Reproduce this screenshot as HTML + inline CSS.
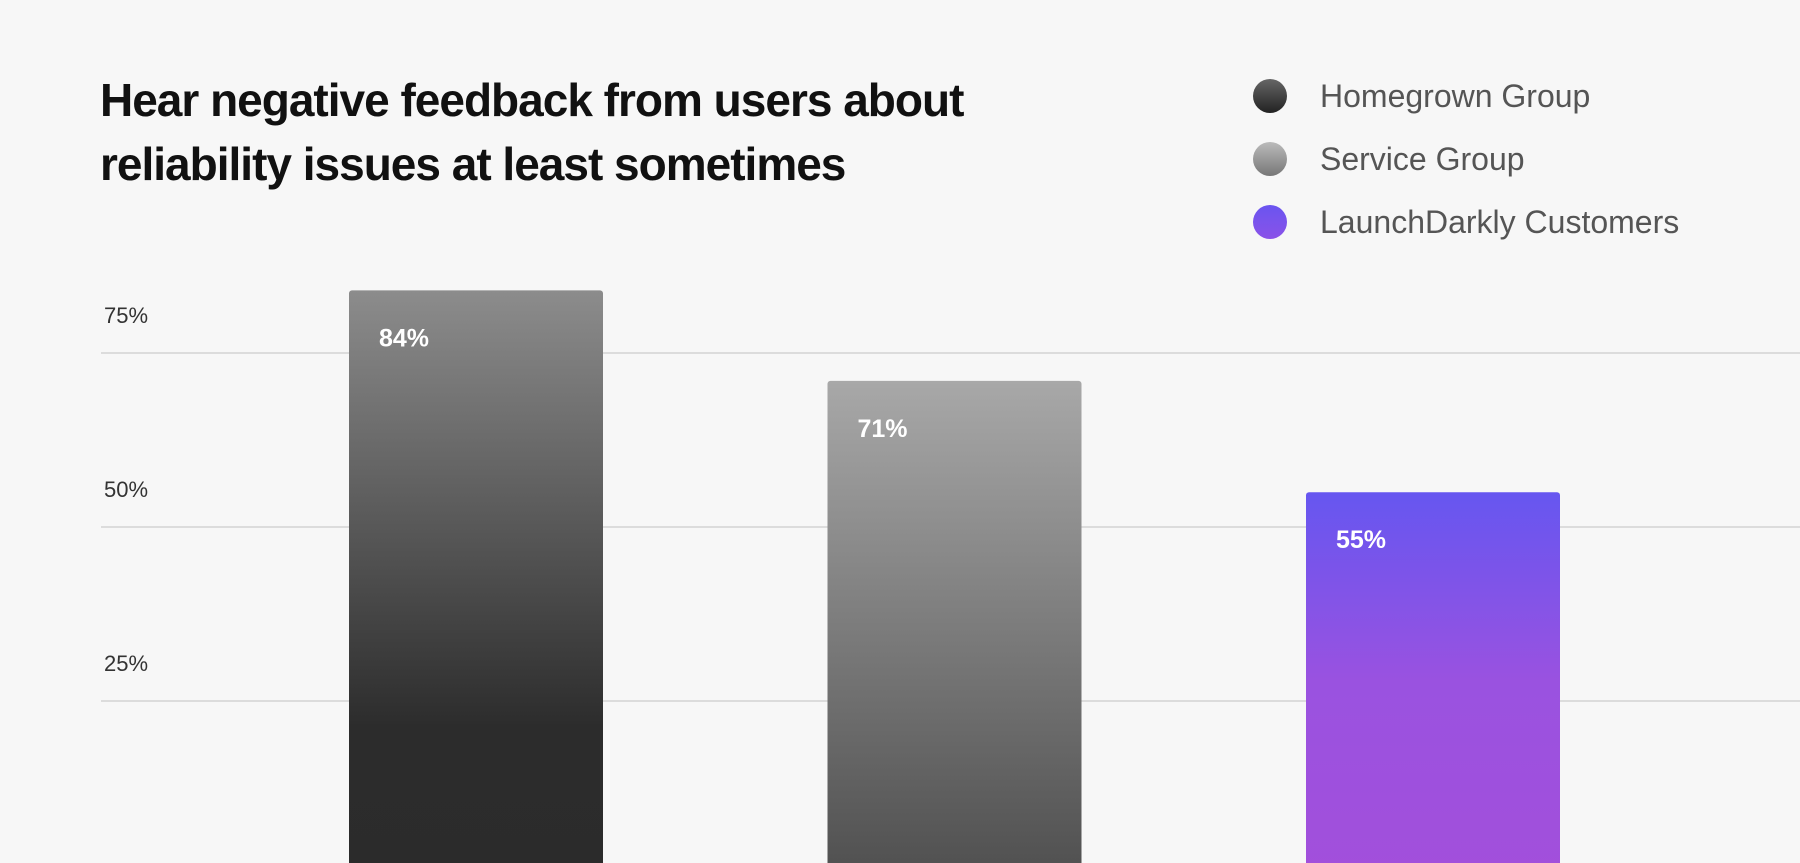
<!DOCTYPE html>
<html><head><meta charset="utf-8">
<style>
html,body{margin:0;padding:0;background:#f7f7f7;}
svg{display:block;font-family:"Liberation Sans",sans-serif;}
</style></head>
<body>
<svg id="chart" width="1800" height="863" viewBox="0 0 1800 863" xmlns="http://www.w3.org/2000/svg">
<defs>
<linearGradient id="g0" x1="0" y1="0" x2="0" y2="1"><stop offset="0" stop-color="#8c8c8c"/><stop offset="0.75" stop-color="#2c2c2c"/><stop offset="1" stop-color="#2b2b2b"/></linearGradient>
<linearGradient id="g1" x1="0" y1="0" x2="0" y2="1"><stop offset="0" stop-color="#a8a8a8"/><stop offset="1" stop-color="#505050"/></linearGradient>
<linearGradient id="g2" x1="0" y1="0" x2="0" y2="1"><stop offset="0" stop-color="#6656f0"/><stop offset="0.5" stop-color="#9a52e0"/><stop offset="1" stop-color="#a24fdb"/></linearGradient>
<linearGradient id="l0" x1="0" y1="0" x2="0" y2="1"><stop offset="0" stop-color="#666"/><stop offset="1" stop-color="#222"/></linearGradient>
<linearGradient id="l1" x1="0" y1="0" x2="0" y2="1"><stop offset="0" stop-color="#bbb"/><stop offset="1" stop-color="#777"/></linearGradient>
<linearGradient id="l2" x1="0" y1="0" x2="0" y2="1"><stop offset="0" stop-color="#6a55f0"/><stop offset="1" stop-color="#8a52e8"/></linearGradient>
</defs>
<rect width="1800" height="863" fill="#f7f7f7"/>
<g font-size="46" font-weight="bold" fill="#111">
<text x="100" y="116" letter-spacing="-1">Hear negative feedback from users about</text>
<text x="100" y="180" letter-spacing="-1">reliability issues at least sometimes</text>
</g>
<g id="legend" font-size="32" fill="#555"></g>
<g id="grid"></g>
<g id="bars"></g>
</svg>
<script>
const categories = ["Homegrown Group","Service Group","LaunchDarkly Customers"];
const values = [84,71,55];
const tickValues = [25,50,75];
const tickLabels = ["25%","50%","75%"];

const NS="http://www.w3.org/2000/svg";
const y0=875, pxPer=6.96;
function yScale(v){return y0-v*pxPer;}
function xScale(i){return 349+i*478.5;}
const barW=254;
function mk(tag,attrs,parent){const e=document.createElementNS(NS,tag);for(const k in attrs)e.setAttribute(k,attrs[k]);parent.appendChild(e);return e;}
const grid=document.getElementById('grid');
tickValues.forEach((t,i)=>{
  const y=yScale(t);
  const l=mk('line',{x1:101,x2:1800,y1:y,y2:y,stroke:'#dcdcdc','stroke-width':2},grid);
  
  
  const tx=mk('text',{x:104,y:y-30,'font-size':22,fill:'#333'},grid);
  tx.textContent=tickLabels[i];
  
  
});
const bars=document.getElementById('bars');
values.forEach((v,i)=>{
  const x=xScale(i),y=yScale(v);
  const r=mk('rect',{x:x,y:y,width:barW,height:863-y+10,rx:3,fill:'url(#g'+i+')'},bars);
  
  
  const t=mk('text',{x:x+30,y:y+56,'font-size':25,'font-weight':'bold',fill:'#fff'},bars);
  t.textContent=v+'%';
  
  
});
const legend=document.getElementById('legend');
categories.forEach((c,i)=>{
  const cy=96+i*63;
  const ci=mk('circle',{cx:1270,cy:cy,r:17,fill:'url(#l'+i+')'},legend);
  
  
  const t=mk('text',{x:1320,y:cy+11},legend);
  t.textContent=c;
  
  
});
</script>
</body></html>
